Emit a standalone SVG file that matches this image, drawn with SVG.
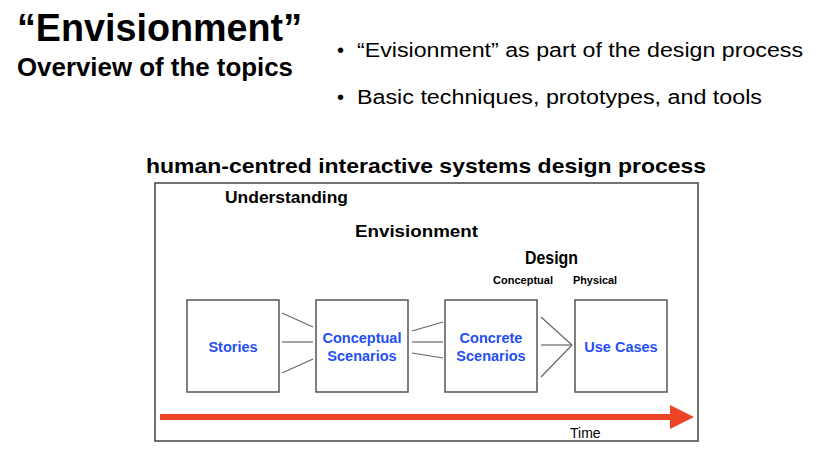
<svg xmlns="http://www.w3.org/2000/svg" width="819" height="456" viewBox="0 0 819 456">
<style>
text{font-family:"Liberation Sans",Arial,sans-serif;fill:#000}
.b{font-weight:bold}
.node rect{fill:#fff;stroke:#555;stroke-width:1.5}
.node text{fill:#1f4ff5;font-weight:bold;font-size:14.5px;text-anchor:middle}
.conn line{stroke:#666;stroke-width:1.2}
</style>
<rect width="819" height="456" fill="#fff"/>
<text class="b" x="17" y="41" font-size="38" textLength="285" lengthAdjust="spacingAndGlyphs">“Envisionment”</text>
<text class="b" x="17" y="76" font-size="25" textLength="276" lengthAdjust="spacingAndGlyphs">Overview of the topics</text>
<text x="337" y="57" font-size="20">•</text>
<text x="357" y="57" font-size="20" textLength="446" lengthAdjust="spacingAndGlyphs">“Evisionment” as part of the design process</text>
<text x="337" y="104" font-size="20">•</text>
<text x="357" y="104" font-size="20" textLength="405" lengthAdjust="spacingAndGlyphs">Basic techniques, prototypes, and tools</text>
<text class="b" x="146" y="173" font-size="21" textLength="560" lengthAdjust="spacingAndGlyphs">human-centred interactive systems design process</text>
<rect x="155" y="183" width="543" height="258" fill="#fff" stroke="#444" stroke-width="1.5"/>
<text class="b" x="225" y="203" font-size="16" textLength="123" lengthAdjust="spacingAndGlyphs">Understanding</text>
<text class="b" x="355" y="237" font-size="17" textLength="123" lengthAdjust="spacingAndGlyphs">Envisionment</text>
<text class="b" x="525" y="264" font-size="18.5" textLength="53" lengthAdjust="spacingAndGlyphs">Design</text>
<text class="b" x="493" y="284" font-size="11" textLength="60" lengthAdjust="spacingAndGlyphs">Conceptual</text>
<text class="b" x="573" y="284" font-size="11" textLength="44" lengthAdjust="spacingAndGlyphs">Physical</text>
<g class="conn">
<line x1="282" y1="313" x2="313" y2="327"/>
<line x1="282" y1="342" x2="313" y2="342"/>
<line x1="282" y1="373" x2="313" y2="359"/>
<line x1="412" y1="331" x2="443" y2="322"/>
<line x1="412" y1="342" x2="443" y2="342"/>
<line x1="412" y1="353" x2="443" y2="358"/>
<line x1="541" y1="317" x2="572" y2="345"/>
<line x1="541" y1="345" x2="572" y2="345"/>
<line x1="541" y1="377" x2="572" y2="345"/>
</g>
<g id="stories" class="node"><rect x="187" y="300" width="92" height="92"/><text x="233" y="352">Stories</text></g>
<g id="conceptual" class="node"><rect x="316" y="300" width="92" height="92"/><text x="362" y="343">Conceptual</text><text x="362" y="361">Scenarios</text></g>
<g id="concrete" class="node"><rect x="445" y="300" width="92" height="92"/><text x="491" y="343">Concrete</text><text x="491" y="361">Scenarios</text></g>
<g id="usecases" class="node"><rect x="575" y="300" width="92" height="92"/><text x="621" y="352">Use Cases</text></g>
<g id="time">
<line x1="160" y1="417" x2="672" y2="417" stroke="#ec4427" stroke-width="6"/>
<polygon points="670,405 694,417 670,429" fill="#ec4427"/>
<text x="570" y="438" font-size="14">Time</text>
</g>
</svg>
